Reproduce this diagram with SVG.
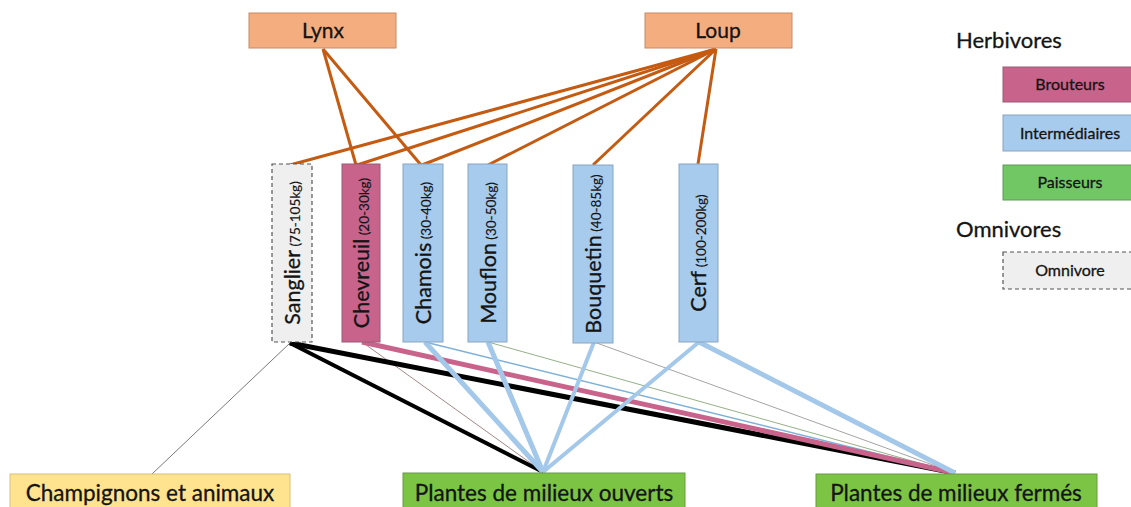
<svg xmlns="http://www.w3.org/2000/svg" width="1131" height="507" viewBox="0 0 1131 507">
<style>
text{font-family:Lato,"Liberation Sans",sans-serif;fill:#141414;stroke:#141414;stroke-width:0.3}
.pred{fill:#f4ad7f;stroke:#c98a62;stroke-width:1}
.br{fill:#c8648b;stroke:#9a5a72;stroke-width:1}
.im{fill:#a7cbed;stroke:#8aa4bf;stroke-width:1}
.pa{fill:#7cc443;stroke:#6a9a45;stroke-width:1}
.pl{fill:#72c765;stroke:#5c9a55;stroke-width:1}
.om{fill:#efefef;stroke:#555;stroke-width:1.2;stroke-dasharray:4 3}
.ye{fill:#ffe38f;stroke:#d9c07a;stroke-width:1}
.o{stroke:#c55a11;stroke-width:3;fill:none}
.big{font-size:21.5px}
.sm{font-size:13.5px;stroke-width:0.15}
.leg{font-size:16px}
.bot{font-size:22.5px}
.bl{stroke:#a3c8ea;fill:none}
</style>
<g id="connectors">
  <g class="o">
    <line x1="323" y1="49" x2="356" y2="165"/>
    <line x1="323" y1="49" x2="421" y2="165"/>
    <line x1="716" y1="49" x2="290" y2="165"/>
    <line x1="716" y1="49" x2="357" y2="165"/>
    <line x1="716" y1="49" x2="422" y2="165"/>
    <line x1="716" y1="49" x2="488" y2="165"/>
    <line x1="716" y1="49" x2="593" y2="165"/>
    <line x1="716" y1="49" x2="698" y2="164"/>
  </g>
  <line x1="290" y1="343" x2="152" y2="474" stroke="#555" stroke-width="0.8"/>
  <line x1="362" y1="342" x2="543" y2="472" stroke="#8a6a6a" stroke-width="0.8"/>
  <line x1="488" y1="342" x2="955" y2="473" stroke="#7a9a6a" stroke-width="0.8"/>
  <line x1="594" y1="342" x2="955" y2="473" stroke="#666" stroke-width="0.6"/>
  <line x1="425" y1="342" x2="955" y2="473" stroke="#7fb0d8" stroke-width="1.5"/>
  <line x1="290" y1="343" x2="543" y2="472" stroke="#000" stroke-width="4"/>
  <line x1="290" y1="343" x2="955" y2="473" stroke="#000" stroke-width="5"/>
  <line x1="362" y1="342" x2="955" y2="473" stroke="#c8648b" stroke-width="5"/>
  <line class="bl" x1="425" y1="342" x2="543" y2="472" stroke-width="5"/>
  <line class="bl" x1="488" y1="342" x2="543" y2="472" stroke-width="5"/>
  <line class="bl" x1="594" y1="342" x2="543" y2="472" stroke-width="4"/>
  <line class="bl" x1="699" y1="342" x2="543" y2="472" stroke-width="4"/>
  <line class="bl" x1="699" y1="342" x2="955" y2="473" stroke-width="5"/>
</g>
<g id="lynx"><rect class="pred" x="249" y="13" width="147" height="35"/><text x="323" y="38" text-anchor="middle" font-size="21">Lynx</text></g>
<g id="loup"><rect class="pred" x="645" y="13" width="147" height="35"/><text x="718" y="38" text-anchor="middle" font-size="21">Loup</text></g>
<g id="sanglier"><rect class="om" x="272" y="164" width="40" height="178"/><text transform="translate(300,253) rotate(-90)" text-anchor="middle"><tspan class="big">Sanglier</tspan><tspan class="sm"> (75-105kg)</tspan></text></g>
<g id="chevreuil"><rect class="br" x="342" y="164" width="38" height="178"/><text transform="translate(369,253) rotate(-90)" text-anchor="middle"><tspan class="big">Chevreuil</tspan><tspan class="sm"> (20-30kg)</tspan></text></g>
<g id="chamois"><rect class="im" x="403" y="164" width="40" height="178"/><text transform="translate(431,253) rotate(-90)" text-anchor="middle"><tspan class="big">Chamois</tspan><tspan class="sm"> (30-40kg)</tspan></text></g>
<g id="mouflon"><rect class="im" x="468" y="164" width="39" height="178"/><text transform="translate(496,253) rotate(-90)" text-anchor="middle"><tspan class="big">Mouflon</tspan><tspan class="sm"> (30-50kg)</tspan></text></g>
<g id="bouquetin"><rect class="im" x="573" y="165" width="40" height="178"/><text transform="translate(601,254) rotate(-90)" text-anchor="middle"><tspan class="big">Bouquetin</tspan><tspan class="sm"> (40-85kg)</tspan></text></g>
<g id="cerf"><rect class="im" x="679" y="164" width="39" height="178"/><text transform="translate(706,253) rotate(-90)" text-anchor="middle"><tspan class="big">Cerf</tspan><tspan class="sm"> (100-200kg)</tspan></text></g>
<g id="champignons"><rect class="ye" x="10" y="474" width="280" height="40"/><text class="bot" x="150" y="501" text-anchor="middle">Champignons et animaux</text></g>
<g id="ouverts"><rect class="pa" x="403" y="473" width="282" height="40"/><text class="bot" x="544" y="501" text-anchor="middle">Plantes de milieux ouverts</text></g>
<g id="fermes"><rect class="pa" x="816" y="474" width="281" height="40"/><text class="bot" x="956" y="501" text-anchor="middle">Plantes de milieux fermés</text></g>
<g id="legend">
  <text x="956" y="48" font-size="22">Herbivores</text>
  <g id="leg-brouteurs"><rect class="br" x="1003" y="67" width="140" height="35"/><text class="leg" x="1070" y="90" text-anchor="middle" fill="#3a1a2a" stroke="#3a1a2a">Brouteurs</text></g>
  <g id="leg-inter"><rect class="im" x="1003" y="115" width="140" height="36"/><text class="leg" x="1070" y="139" text-anchor="middle">Intermédiaires</text></g>
  <g id="leg-paisseurs"><rect class="pl" x="1003" y="165" width="140" height="35"/><text class="leg" x="1070" y="188" text-anchor="middle">Paisseurs</text></g>
  <text x="956" y="237" font-size="22">Omnivores</text>
  <g id="leg-omni"><rect class="om" x="1003" y="252" width="140" height="37"/><text class="leg" x="1070" y="276" text-anchor="middle">Omnivore</text></g>
</g>
</svg>
